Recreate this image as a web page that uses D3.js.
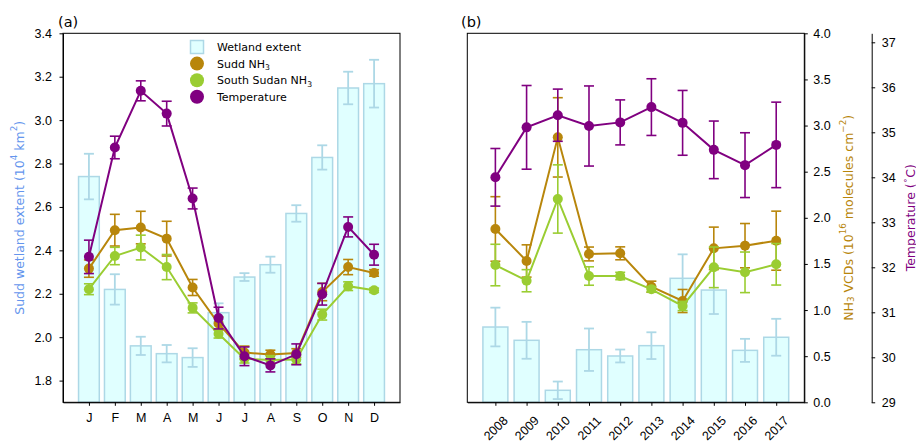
<!DOCTYPE html>
<meta charset='utf-8'>
<head>
    <title>Sudd wetland and NH3</title>
    <script src='https://cdn.jsdelivr.net/npm/d3@7/dist/d3.min.js'></script>
</head>

<style>
    body { margin: 0; background: white; }
    svg { font-family: 'DejaVu Sans', sans-serif; }
    .axis path, .axis line { stroke: black; stroke-width: 1px; }
    .axis text { font-size: 12.5px; fill: black; }
</style>

<svg></svg>

<script>
    var vWidth = 916;
    var vHeight = 443;

    // ---- panel (a): monthly climatology ----
    var months = ['J', 'F', 'M', 'A', 'M', 'J', 'J', 'A', 'S', 'O', 'N', 'D'];
    var wetMonth = [2.74, 2.22, 1.96, 1.924, 1.906, 2.113, 2.277, 2.334, 2.57, 2.828, 3.148, 3.168];
    var wetMonthErr = [0.105, 0.07, 0.042, 0.04, 0.043, 0.043, 0.018, 0.037, 0.038, 0.056, 0.075, 0.11];
    // lines below are read in left-axis units (their own axes are hidden in panel a)
    var suddMonth = [2.316, 2.493, 2.505, 2.454, 2.229, 2.063, 1.929, 1.92, 1.927, 2.208, 2.323, 2.296];
    var suddMonthErr = [0.04, 0.073, 0.075, 0.08, 0.037, 0.03, 0.03, 0.02, 0.02, 0.04, 0.035, 0.015];
    var ssMonth = [2.221, 2.374, 2.413, 2.323, 2.135, 2.016, 1.901, 1.895, 1.897, 2.104, 2.235, 2.216];
    var ssMonthErr = [0.025, 0.04, 0.057, 0.058, 0.023, 0.02, 0.02, 0.02, 0.02, 0.025, 0.02, 0.01];
    var tempMonth = [2.37, 2.874, 3.135, 3.03, 2.639, 2.088, 1.912, 1.87, 1.921, 2.198, 2.508, 2.38];
    var tempMonthErr = [0.077, 0.052, 0.046, 0.057, 0.048, 0.05, 0.043, 0.03, 0.048, 0.05, 0.046, 0.048];

    // ---- panel (b): annual means ----
    var years = ['2008', '2009', '2010', '2011', '2012', '2013', '2014', '2015', '2016', '2017'];
    var wetYear = [0.816, 0.672, 0.13, 0.57, 0.502, 0.614, 1.344, 1.217, 0.563, 0.705]; // hidden axis
    var wetYearErr = [0.21, 0.2, 0.095, 0.23, 0.07, 0.145, 0.26, 0.26, 0.125, 0.2];
    var suddYear = [1.879, 1.532, 2.872, 1.608, 1.615, 1.253, 1.098, 1.669, 1.698, 1.752];
    var suddYearErr = [0.35, 0.175, 0.43, 0.075, 0.07, 0.06, 0.125, 0.23, 0.24, 0.32];
    var ssYear = [1.488, 1.318, 2.204, 1.369, 1.369, 1.225, 1.044, 1.463, 1.409, 1.496];
    var ssYearErr = [0.225, 0.12, 0.37, 0.1, 0.04, 0.03, 0.05, 0.22, 0.22, 0.225];
    var tempYear = [34.0, 35.11, 35.38, 35.14, 35.22, 35.56, 35.21, 34.61, 34.27, 34.72];
    var tempYearErr = [0.64, 0.93, 0.58, 0.89, 0.5, 0.63, 0.72, 0.64, 0.72, 0.95];

    var cBarFill = '#e0ffff', cBarLine = '#add8e6';
    var cSudd = '#b8860b', cSS = '#9acd32', cTemp = '#800080';
    var cWetLabel = '#6495ed';

    var svg = d3.select('svg').attr('width', vWidth).attr('height', vHeight);

    // write text with sub/superscript pieces: [string, 'sup'|'sub'|null]
    function richText(t, parts, size) {
        var shift = 0; // current baseline offset, undone on the next normal piece
        parts.forEach(function (p) {
            var s = t.append('tspan').text(p[0]);
            var want = p[1] === 'sup' ? -size * 0.38 : p[1] === 'sub' ? size * 0.25 : 0;
            if (want !== shift) s.attr('dy', want - shift);
            if (p[1]) s.attr('font-size', size * 0.7);
            shift = want;
        });
    }

    function errorBars(g, xs, ys, vals, errs, color, width) {
        var gg = g.append('g').attr('stroke', color).attr('stroke-width', width);
        vals.forEach(function (v, i) {
            var x = xs(i), y0 = ys(v - errs[i]), y1 = ys(v + errs[i]);
            gg.append('line').attr('x1', x).attr('x2', x).attr('y1', y0).attr('y2', y1);
            gg.append('line').attr('x1', x - 5).attr('x2', x + 5).attr('y1', y0).attr('y2', y0);
            gg.append('line').attr('x1', x - 5).attr('x2', x + 5).attr('y1', y1).attr('y2', y1);
        });
    }

    function bars(g, xs, ys, vals, errs, base) {
        g.append('g').selectAll('rect').data(vals).enter().append('rect')
            .attr('x', function (d, i) { return xs(i - 0.4); })
            .attr('width', function (d, i) { return xs(i + 0.4) - xs(i - 0.4); })
            .attr('y', function (d) { return ys(d); })
            .attr('height', function (d) { return ys(base) - ys(d); })
            .attr('fill', cBarFill).attr('stroke', cBarLine).attr('stroke-width', 1.5);
        errorBars(g, xs, ys, vals, errs, cBarLine, 1.8);
    }

    function series(g, xs, ys, vals, errs, color) {
        errorBars(g, xs, ys, vals, errs, color, 1.6);
        g.append('path').datum(vals)
            .attr('d', d3.line().x(function (d, i) { return xs(i); }).y(function (d) { return ys(d); }))
            .attr('fill', 'none').attr('stroke', color).attr('stroke-width', 2);
        g.append('g').selectAll('circle').data(vals).enter().append('circle')
            .attr('cx', function (d, i) { return xs(i); })
            .attr('cy', function (d) { return ys(d); })
            .attr('r', 5).attr('fill', color);
    }

    // ================= panel (a) =================
    var plotTop = 33.3, plotBottom = 402.3;
    var xA = d3.scaleLinear().domain([-1, 12]).range([63, 400]);
    var yA = d3.scaleLinear().domain([1.7, 3.4]).range([plotBottom, plotTop]);
    var gA = svg.append('g');

    bars(gA, xA, yA, wetMonth, wetMonthErr, 1.7);
    series(gA, xA, yA, suddMonth, suddMonthErr, cSudd);
    series(gA, xA, yA, ssMonth, ssMonthErr, cSS);
    series(gA, xA, yA, tempMonth, tempMonthErr, cTemp);

    gA.append('rect').attr('x', 63).attr('y', plotTop).attr('width', 337).attr('height', plotBottom - plotTop)
        .attr('fill', 'none').attr('stroke', 'black').attr('stroke-width', 1);

    gA.append('g').attr('class', 'axis').attr('transform', 'translate(0,' + plotBottom + ')')
        .call(d3.axisBottom(xA).tickValues(d3.range(12)).tickFormat(function (i) { return months[i]; })
            .tickSize(3.5).tickPadding(7).tickSizeOuter(0));
    gA.append('g').attr('class', 'axis').attr('transform', 'translate(63,0)')
        .call(d3.axisLeft(yA).tickValues(d3.range(1.8, 3.41, 0.2)).tickFormat(d3.format('.1f'))
            .tickSize(3.5).tickPadding(7.5).tickSizeOuter(0));

    var mid = (plotTop + plotBottom) / 2;
    var lab = svg.append('text').attr('transform', 'translate(18.5,' + mid + ') rotate(-90)')
        .attr('text-anchor', 'middle').attr('dominant-baseline', 'central')
        .attr('font-size', 12.5).attr('fill', cWetLabel);
    richText(lab, [['Sudd wetland extent (10'], ['4', 'sup'], [' km'], ['2', 'sup'], [')']], 12.5);

    svg.append('text').attr('x', 58).attr('y', 27).attr('font-size', 14.5).text('(a)');

    // legend
    var leg = gA.append('g').attr('font-size', 11);
    var legItems = [
        {parts: [['Wetland extent']], type: 'box'},
        {parts: [['Sudd NH'], ['3', 'sub']], color: cSudd},
        {parts: [['South Sudan NH'], ['3', 'sub']], color: cSS},
        {parts: [['Temperature']], color: cTemp}
    ];
    legItems.forEach(function (it, i) {
        var cy = 47 + i * 16.6;
        if (it.type === 'box') {
            leg.append('rect').attr('x', 190.5).attr('y', cy - 6.5).attr('width', 13).attr('height', 13)
                .attr('fill', cBarFill).attr('stroke', cBarLine).attr('stroke-width', 1.5);
        } else {
            leg.append('circle').attr('cx', 197).attr('cy', cy).attr('r', 7).attr('fill', it.color);
        }
        var t = leg.append('text').attr('x', 217).attr('y', cy + 4);
        richText(t, it.parts, 11);
    });

    // ================= panel (b) =================
    var xB = d3.scaleLinear().domain([-0.9, 9.9]).range([467.3, 804.3]);
    var yBar = d3.scaleLinear().domain([0, 4]).range([plotBottom, plotTop]);
    var yN = d3.scaleLinear().domain([0, 4]).range([plotBottom, plotTop]);
    var yT = d3.scaleLinear().domain([29, 37.2]).range([plotBottom, plotTop]);
    var gB = svg.append('g');

    bars(gB, xB, yBar, wetYear, wetYearErr, 0);
    series(gB, xB, yN, suddYear, suddYearErr, cSudd);
    series(gB, xB, yN, ssYear, ssYearErr, cSS);
    series(gB, xB, yT, tempYear, tempYearErr, cTemp);

    gB.append('rect').attr('x', 467.3).attr('y', plotTop).attr('width', 337).attr('height', plotBottom - plotTop)
        .attr('fill', 'none').attr('stroke', 'black').attr('stroke-width', 1);

    var xAxB = gB.append('g').attr('class', 'axis').attr('transform', 'translate(0,' + plotBottom + ')')
        .call(d3.axisBottom(xB).tickValues(d3.range(10)).tickFormat(function (i) { return years[i]; })
            .tickSize(3.5).tickSizeOuter(0));
    xAxB.selectAll('.tick text')
        .attr('y', 0).attr('dy', null)
        .attr('text-anchor', 'middle').attr('dominant-baseline', 'central')
        .attr('transform', 'translate(0,26) rotate(-45)');

    gB.append('g').attr('class', 'axis').attr('transform', 'translate(804.3,0)')
        .call(d3.axisRight(yN).tickValues(d3.range(0, 4.01, 0.5)).tickFormat(d3.format('.1f'))
            .tickSize(3.5).tickPadding(5.5).tickSizeOuter(0));

    gB.append('g').attr('class', 'axis').attr('transform', 'translate(871.7,0)')
        .call(d3.axisRight(yT).tickValues(d3.range(29, 37.1, 1)).tickFormat(d3.format('d'))
            .tickSize(3.5).tickPadding(6.5).tickSizeOuter(0));

    var labN = svg.append('text').attr('transform', 'translate(848,' + mid + ') rotate(-90)')
        .attr('text-anchor', 'middle').attr('dominant-baseline', 'central')
        .attr('font-size', 12.5).attr('fill', cSudd);
    richText(labN, [['NH'], ['3', 'sub'], [' VCDs (10'], ['16', 'sup'], [' molecules cm'], ['\u22122', 'sup'], [')']], 12.5);

    var labT = svg.append('text').attr('transform', 'translate(910,' + mid + ') rotate(-90)')
        .attr('text-anchor', 'middle').attr('dominant-baseline', 'central')
        .attr('font-size', 12.5).attr('fill', cTemp);
    richText(labT, [['Temperature ('], ['\u2218', 'sup'], ['C)']], 12.5);

    svg.append('text').attr('x', 461).attr('y', 27).attr('font-size', 14.5).text('(b)');
</script>
